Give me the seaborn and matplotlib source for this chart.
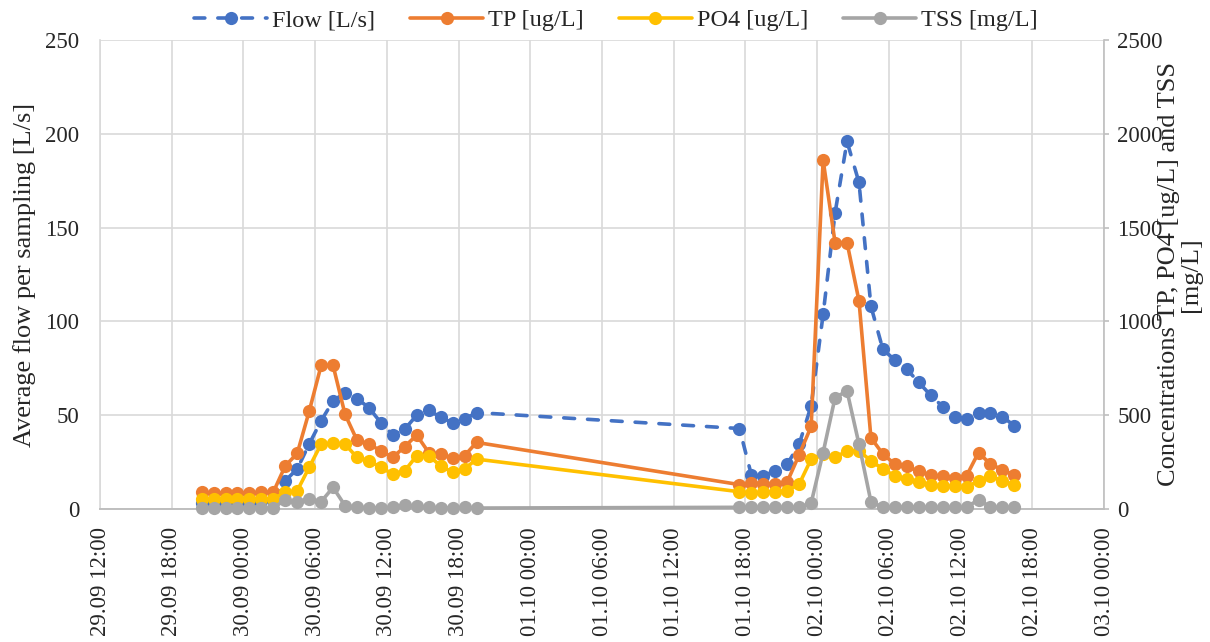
import matplotlib
matplotlib.use("Agg")
import matplotlib.pyplot as plt
import matplotlib.dates as mdates
import pandas as pd
import seaborn as sns

# Sampling times (dd.mm HH:MM)
sample_time = [
    "29.09 20:30", "29.09 21:30", "29.09 22:30", "29.09 23:30",
    "30.09 00:30", "30.09 01:30", "30.09 02:30", "30.09 03:30",
    "30.09 04:30", "30.09 05:30", "30.09 06:30", "30.09 07:30",
    "30.09 08:30", "30.09 09:30", "30.09 10:30", "30.09 11:30",
    "30.09 12:30", "30.09 13:30", "30.09 14:30", "30.09 15:30",
    "30.09 16:30", "30.09 17:30", "30.09 18:30", "30.09 19:30",
    "01.10 17:30", "01.10 18:30", "01.10 19:30", "01.10 20:30",
    "01.10 21:30", "01.10 22:30", "01.10 23:30", "02.10 00:30",
    "02.10 01:30", "02.10 02:30", "02.10 03:30", "02.10 04:30",
    "02.10 05:30", "02.10 06:30", "02.10 07:30", "02.10 08:30",
    "02.10 09:30", "02.10 10:30", "02.10 11:30", "02.10 12:30",
    "02.10 13:30", "02.10 14:30", "02.10 15:30", "02.10 16:30",
]

# Average flow per sampling [L/s]
flow = [
    3, 3, 3, 3, 3, 4, 5, 15.1, 21.3, 34.6, 47, 57.6,
    62, 58.9, 54, 46, 39.4, 42.6, 50, 52.8, 48.8, 46, 47.9, 51.4,
    42.9, 18.1, 17.7, 20.4, 23.9, 34.6, 55, 103.7, 157.8, 195.9, 174.1, 108.1,
    85.1, 79.4, 74.5, 67.5, 60.6, 54.6, 49.3, 47.9, 51.4, 51.4, 49.3, 44.3,
]

# Total phosphorus [ug/L]
tp = [
    90, 85, 85, 85, 85, 90, 90, 230, 296, 520, 765, 765,
    505, 367, 346, 310, 275, 333, 394, 301, 293, 270, 284, 355,
    130, 140, 135, 135, 145, 290, 440, 1860, 1420, 1420, 1110, 380,
    293, 239, 227, 200, 181, 174, 165, 177, 301, 239, 210, 180,
]

# Phosphate [ug/L]
po4 = [
    55, 55, 55, 55, 55, 55, 55, 89, 97, 222, 346, 351,
    346, 275, 257, 222, 186, 204, 284, 284, 230, 195, 213, 266,
    92, 83, 92, 92, 97, 133, 266, 293, 275, 310, 310, 257,
    213, 177, 160, 142, 128, 121, 121, 115, 151, 174, 151, 128,
]

# Total suspended solids [mg/L]
tss = [
    5, 5, 5, 5, 5, 5, 5, 50, 39, 53, 39, 115,
    18, 10, 5, 5, 10, 20, 15, 8, 5, 5, 8, 5,
    9, 9, 9, 9, 9, 9, 32, 301, 594, 629, 346, 39,
    9, 9, 12, 9, 9, 9, 9, 9, 50, 9, 9, 9,
]

x_start = "29.09 12:00"
x_end = "03.10 00:00"
year = "2021"

flow_label = "Flow [L/s]"
tp_label = "TP [ug/L]"
po4_label = "PO4 [ug/L]"
tss_label = "TSS [mg/L]"
left_title = "Average flow per sampling [L/s]"
right_title = "Concentrations TP, PO4 [ug/L] and TSS\n[mg/L]"

BLUE, ORANGE, YELLOW, GREY = "#4472C4", "#ED7D31", "#FFC000", "#A5A5A5"
GRID = "#d9d9d9"
AXIS = "#bfbfbf"


def to_time(s):
    return pd.to_datetime(s + " " + year, format="%d.%m %H:%M %Y")


df = pd.DataFrame({
    "time": [to_time(s) for s in sample_time],
    "flow": flow, "tp": tp, "po4": po4, "tss": tss,
})

sns.set_style("white")
plt.rcParams["font.family"] = ["Liberation Serif", "DejaVu Serif"]

fig, ax = plt.subplots(figsize=(12.1, 6.42), dpi=100)
fig.subplots_adjust(left=100 / 1210, right=1104 / 1210,
                    top=1 - 40 / 642, bottom=1 - 509 / 642)
ax2 = ax.twinx()

line_kw = dict(marker="o", markersize=9.5, linewidth=2.6,
               markeredgewidth=0, sort=False, clip_on=False, legend=False)

sns.lineplot(data=df, x="time", y="flow", ax=ax, color=BLUE,
             markeredgecolor=BLUE, linestyle=(0, (3, 3.6)),
             dash_capstyle="round", **line_kw)
ax.lines[-1].set_label(flow_label)

for col, color, lab in [("tp", ORANGE, tp_label),
                        ("po4", YELLOW, po4_label),
                        ("tss", GREY, tss_label)]:
    sns.lineplot(data=df, x="time", y=col, ax=ax2, color=color,
                 markeredgecolor=color, **line_kw)
    ax2.lines[-1].set_label(lab)

# Axes ranges and ticks
ax.set_xlim(to_time(x_start), to_time(x_end))
ax.set_ylim(0, 250)
ax.set_yticks(range(0, 251, 50))
ax2.set_ylim(0, 2500)
ax2.set_yticks(range(0, 2501, 500))

ax.xaxis.set_major_locator(mdates.HourLocator(byhour=[0, 6, 12, 18]))
ax.xaxis.set_major_formatter(mdates.DateFormatter("%d.%m %H:%M"))
ax.tick_params(axis="x", length=0, pad=13, labelsize=16.5, labelrotation=90)
ax.tick_params(axis="y", length=0, pad=15, labelsize=16.5)
ax2.tick_params(axis="y", length=3.6, width=1.2, color=AXIS, pad=6,
                labelsize=16.5, direction="out")
for lab in ax.get_xticklabels():
    lab.set_ha("center")
    lab.set_va("top")

ax.grid(True, color=GRID, linewidth=1.2)
ax.set_axisbelow(True)
ax2.grid(False)

for sp in ["top", "right"]:
    ax.spines[sp].set_visible(False)
ax.spines["left"].set_color(GRID)
ax.spines["left"].set_linewidth(1.2)
ax.spines["bottom"].set_color(AXIS)
ax.spines["bottom"].set_linewidth(1.4)
for sp in ["top", "left", "bottom"]:
    ax2.spines[sp].set_visible(False)
ax2.spines["right"].set_color(AXIS)
ax2.spines["right"].set_linewidth(1.2)

# Axis titles
ax.set_xlabel("")
ax.set_ylabel(left_title, fontsize=19)
ax.yaxis.label.set(rotation=90, ha="center", va="center", rotation_mode="anchor")
ax.yaxis.set_label_coords((25 - 100) / 1004, 0.5)

ax2.set_ylabel(right_title, fontsize=19, linespacing=1.05)
ax2.yaxis.label.set(rotation=90, ha="center", va="center",
                    rotation_mode="anchor", multialignment="center")
ax2.yaxis.set_label_coords((1180 - 100) / 1004, 0.5)

# Legend across the top
handles = ax.get_lines()[-1:] + ax2.get_lines()[-3:]
labels = [h.get_label() for h in handles]
fig.legend(handles, labels, loc="center", bbox_to_anchor=(616 / 1210, 1 - 20 / 642),
           ncol=4, frameon=False, fontsize=17.5, handlelength=3,
           handletextpad=0.2, columnspacing=1.45, borderaxespad=0)

fig.savefig("out.png", dpi=100)
